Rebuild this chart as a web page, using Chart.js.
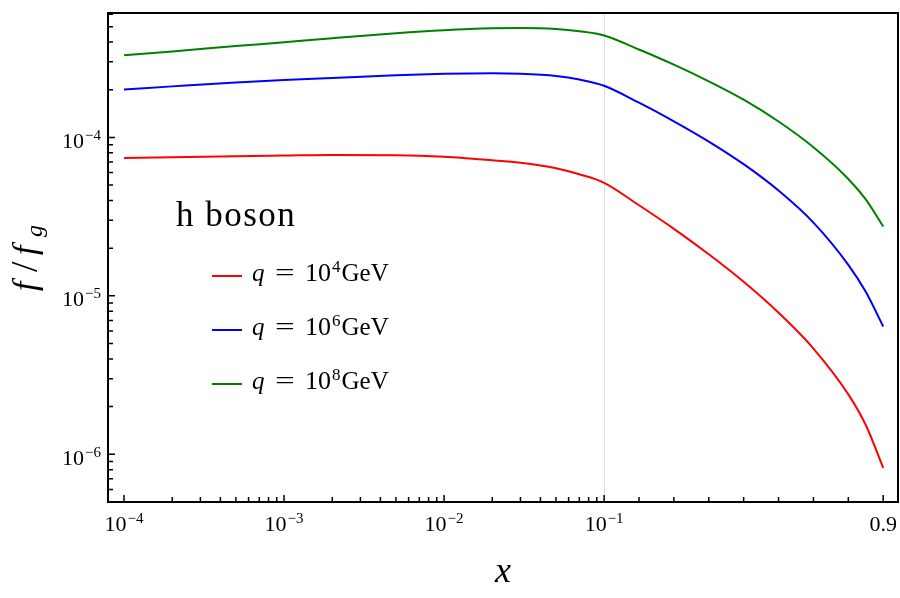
<!DOCTYPE html>
<html>
<head>
<meta charset="utf-8">
<script src="https://cdn.jsdelivr.net/npm/chart.js@4/dist/chart.umd.min.js"></script>
<style>
    html, body { margin: 0; padding: 0; background: #fff; }
    #wrap { width: 900px; height: 598px; position: relative; }
</style>
</head>
<body>
<div id="wrap"><canvas id="chart"></canvas></div>
<script>
// x values of the curves (log axis up to 0.1, linear after it)
const xValues = [1e-4, 2e-4, 5e-4, 1e-3, 2e-3, 5e-3, 0.01, 0.02, 0.03, 0.05, 0.07, 0.1,
    0.2, 0.3, 0.4, 0.5, 0.6, 0.7, 0.8, 0.85, 0.9];

const q4Values = [7.41e-5, 7.50e-5, 7.61e-5, 7.68e-5, 7.75e-5, 7.72e-5, 7.55e-5, 7.18e-5, 6.92e-5, 6.39e-5, 5.85e-5, 5.17e-5,
    3.73e-5, 2.65e-5, 1.83e-5, 1.227e-5, 7.83e-6, 4.65e-6, 2.39e-6, 1.53e-6, 8.22e-7];
const q6Values = [2.01e-4, 2.10e-4, 2.22e-4, 2.30e-4, 2.37e-4, 2.47e-4, 2.52e-4, 2.54e-4, 2.52e-4, 2.44e-4, 2.32e-4, 2.12e-4,
    1.656e-4, 1.265e-4, 9.42e-5, 6.78e-5, 4.62e-5, 2.90e-5, 1.57e-5, 1.06e-5, 6.41e-6];
const q8Values = [3.30e-4, 3.49e-4, 3.77e-4, 3.99e-4, 4.23e-4, 4.54e-4, 4.74e-4, 4.88e-4, 4.91e-4, 4.84e-4, 4.68e-4, 4.40e-4,
    3.59e-4, 2.88e-4, 2.26e-4, 1.73e-4, 1.26e-4, 8.67e-5, 5.47e-5, 4.06e-5, 2.74e-5];

const qExponents = ['4', '6', '8'];
const seriesColors = ['#ff0000', '#0000ff', '#008000'];

const xMajorTicks = [1e-4, 1e-3, 1e-2, 1e-1, 0.9];
const xTickLabels = [['10', '\u22124'], ['10', '\u22123'], ['10', '\u22122'], ['10', '\u22121'], ['0.9', '']];
const yMajorTicks = [1e-6, 1e-5, 1e-4];
const yTickLabels = [['10', '\u22126'], ['10', '\u22125'], ['10', '\u22124']];

const xBreak = 0.1;
const linDecadesPerUnit = 2.18;

const serif = '"Liberation Serif", "DejaVu Serif", serif';

// log axis below xBreak, linear above it
class BrokenLogScale extends Chart.Scale {
    static id = 'brokenlog';
    static defaults = {};

    determineDataLimits() {
        this.min = this.options.min;
        this.max = this.options.max;
    }

    buildTicks() {
        return xMajorTicks.map(v => ({ value: v }));
    }

    toUnit(v) {
        if (v <= xBreak) {
            return Math.log10(v);
        }
        return Math.log10(xBreak) + (v - xBreak) * linDecadesPerUnit;
    }

    configure() {
        super.configure();
        this._u0 = this.toUnit(this.min);
        this._u1 = this.toUnit(this.max);
    }

    getPixelForValue(v) {
        return this.getPixelForDecimal((this.toUnit(v) - this._u0) / (this._u1 - this._u0));
    }

    getValueForPixel(p) {
        const u = this._u0 + this.getDecimalForPixel(p) * (this._u1 - this._u0);
        if (u <= Math.log10(xBreak)) {
            return Math.pow(10, u);
        }
        return xBreak + (u - Math.log10(xBreak)) / linDecadesPerUnit;
    }

    getLabelForValue(v) {
        return String(v);
    }
}
Chart.register(BrokenLogScale);

function xMinorTicks() {
    const out = [];
    for (let e = -4; e < -1; e++) {
        for (let m = 2; m <= 9; m++) out.push(m * Math.pow(10, e));
    }
    for (let m = 2; m <= 8; m++) out.push(m / 10);
    return out;
}

function yMinorTicks() {
    const out = [];
    for (let e = -7; e <= -4; e++) {
        for (let m = 2; m <= 9; m++) {
            const v = m * Math.pow(10, e);
            if (v >= 5e-7 && v <= 6.1e-4) out.push(v);
        }
    }
    return out;
}

// draws base with a raised exponent, returns the right end
function drawPower(ctx, base, exp, x, y, align, baseSize, expSize, rise) {
    ctx.font = baseSize + 'px ' + serif;
    const wb = ctx.measureText(base).width;
    ctx.font = expSize + 'px ' + serif;
    const we = exp ? ctx.measureText(exp).width + 1 : 0;
    const w = wb + we;
    let left = x;
    if (align === 'right') left = x - w;
    if (align === 'center') left = x - w / 2;
    ctx.textAlign = 'left';
    ctx.textBaseline = 'alphabetic';
    ctx.font = baseSize + 'px ' + serif;
    ctx.fillText(base, left, y);
    if (exp) {
        ctx.font = expSize + 'px ' + serif;
        ctx.fillText(exp, left + wb + 1, y - rise);
    }
    return left + w;
}

const framePlugin = {
    id: 'frame',
    beforeDatasetsDraw(chart) {
        const { ctx, chartArea: a, scales } = chart;
        const px = Math.round(scales.x.getPixelForValue(xBreak)) + 0.5;
        ctx.save();
        ctx.strokeStyle = '#e0e0e0';
        ctx.lineWidth = 1;
        ctx.beginPath();
        ctx.moveTo(px, a.top);
        ctx.lineTo(px, a.bottom);
        ctx.stroke();
        ctx.restore();
    },
    afterDatasetsDraw(chart) {
        const { ctx, chartArea: a, scales } = chart;
        const x = scales.x;
        const y = scales.y;
        ctx.save();
        ctx.strokeStyle = '#000';
        ctx.fillStyle = '#000';

        // ticks, pointing inward
        ctx.lineWidth = 1.5;
        ctx.beginPath();
        xMajorTicks.forEach(v => {
            const p = x.getPixelForValue(v);
            ctx.moveTo(p, a.bottom);
            ctx.lineTo(p, a.bottom - 7);
        });
        xMinorTicks().forEach(v => {
            const p = x.getPixelForValue(v);
            ctx.moveTo(p, a.bottom);
            ctx.lineTo(p, a.bottom - 5);
        });
        yMajorTicks.forEach(v => {
            const p = y.getPixelForValue(v);
            ctx.moveTo(a.left, p);
            ctx.lineTo(a.left + 7, p);
        });
        yMinorTicks().forEach(v => {
            const p = y.getPixelForValue(v);
            ctx.moveTo(a.left, p);
            ctx.lineTo(a.left + 5, p);
        });
        ctx.stroke();

        // frame
        ctx.lineWidth = 2;
        ctx.strokeRect(a.left, a.top, a.right - a.left, a.bottom - a.top);

        // tick labels
        xMajorTicks.forEach((v, i) => {
            const p = x.getPixelForValue(v);
            drawPower(ctx, xTickLabels[i][0], xTickLabels[i][1], p, a.bottom + 29, 'center', 22, 15, 8);
        });
        yMajorTicks.forEach((v, i) => {
            const p = y.getPixelForValue(v);
            drawPower(ctx, yTickLabels[i][0], yTickLabels[i][1], a.left - 7, p + 10.5, 'right', 22, 15, 8);
        });

        // axis titles
        ctx.font = 'italic 36px ' + serif;
        ctx.textAlign = 'center';
        ctx.fillText('x', (a.left + a.right) / 2, 582);

        ctx.save();
        ctx.translate(36, 291);
        ctx.rotate(-Math.PI / 2);
        ctx.textAlign = 'left';
        ctx.font = 'italic 34px ' + serif;
        ctx.fillText('f', 0, 0);
        ctx.font = '38px ' + serif;
        ctx.fillText('/', 19, 1);
        ctx.font = 'italic 34px ' + serif;
        ctx.fillText('f', 36, 0);
        ctx.font = 'italic 24px ' + serif;
        ctx.fillText('g', 54, 6);
        ctx.restore();

        // legend
        ctx.textAlign = 'left';
        ctx.font = '35px ' + serif;
        ctx.letterSpacing = '1.5px';
        ctx.fillText('h boson', 176, 226);
        ctx.letterSpacing = '0px';
        chart.data.datasets.forEach((ds, i) => {
            const ly = 276 + 54 * i;
            ctx.strokeStyle = ds.borderColor;
            ctx.lineWidth = 2;
            ctx.beginPath();
            ctx.moveTo(212, ly);
            ctx.lineTo(242, ly);
            ctx.stroke();
            ctx.font = 'italic 25px ' + serif;
            ctx.fillText('q', 252, ly + 5);
            ctx.save();
            ctx.translate(275, ly + 5);
            ctx.scale(1.4, 1);
            ctx.font = '25px ' + serif;
            ctx.fillText('=', 0, 0);
            ctx.restore();
            const end = drawPower(ctx, '10', qExponents[i], 305, ly + 5, 'left', 26, 17, 9);
            ctx.font = '25px ' + serif;
            ctx.fillText('GeV', end + 1, ly + 5);
        });
        ctx.restore();
    }
};

function series(values) {
    return xValues.map((v, i) => ({ x: v, y: values[i] }));
}

const datasets = [q4Values, q6Values, q8Values].map((vals, i) => ({
    label: 'q = 10^' + qExponents[i] + ' GeV',
    data: series(vals),
    borderColor: seriesColors[i],
    backgroundColor: seriesColors[i],
    borderWidth: 2,
    pointRadius: 0,
    cubicInterpolationMode: 'monotone',
    fill: false
}));

new Chart(document.getElementById('chart').getContext('2d'), {
    type: 'line',
    data: { datasets: datasets },
    options: {
        responsive: true,
        maintainAspectRatio: false,
        animation: false,
        layout: {
            padding: { left: 108, top: 13, right: 2, bottom: 96 }
        },
        plugins: {
            legend: { display: false },
            tooltip: { enabled: false }
        },
        scales: {
            x: {
                type: 'brokenlog',
                min: 7.94e-5,
                max: 0.9424,
                display: false
            },
            y: {
                type: 'logarithmic',
                min: 5e-7,
                max: 6.1e-4,
                display: false
            }
        }
    },
    plugins: [framePlugin]
});
</script>
</body>
</html>
